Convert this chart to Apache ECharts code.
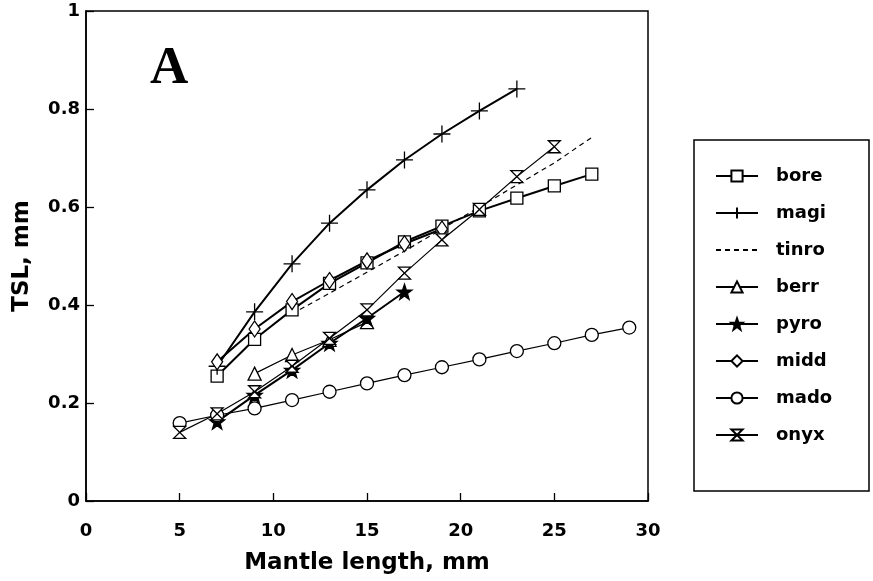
<!DOCTYPE html>
<html lang="en">
<head>
  <meta charset="UTF-8">
  <title>TSL vs mantle length</title>
  <script src="https://cdn.jsdelivr.net/npm/echarts@6/dist/echarts.min.js"></script>
  <style>
    html, body { margin: 0; padding: 0; background: #fff; }
    #chart { width: 873px; height: 581px; }
  </style>
</head>
<body>
  <div id="chart"></div>
  <script type="text/javascript">
    // mantle length, mm
    var boreX = [7, 9, 11, 13, 15, 17, 19, 21, 23, 25, 27];
    var boreY = [0.255, 0.33, 0.39, 0.444, 0.486, 0.529, 0.561, 0.592, 0.618, 0.643, 0.667];
    var magiX = [7, 9, 11, 13, 15, 17, 19, 21, 23];
    var magiY = [0.275, 0.386, 0.484, 0.567, 0.635, 0.696, 0.749, 0.796, 0.841];
    var tinroX = [11, 13, 15, 17, 19, 21, 23, 25, 27];
    var tinroY = [0.382, 0.424, 0.467, 0.51, 0.555, 0.6, 0.645, 0.69, 0.742];
    var berrX = [9, 11, 13, 15];
    var berrY = [0.26, 0.298, 0.329, 0.365];
    var pyroX = [7, 9, 11, 13, 15, 17];
    var pyroY = [0.162, 0.216, 0.267, 0.322, 0.373, 0.427];
    var middX = [7, 9, 11, 13, 15, 17, 19];
    var middY = [0.284, 0.351, 0.407, 0.45, 0.49, 0.525, 0.555];
    var madoX = [5, 7, 9, 11, 13, 15, 17, 19, 21, 23, 25, 27, 29];
    var madoY = [0.159, 0.175, 0.189, 0.206, 0.223, 0.24, 0.257, 0.273, 0.289, 0.306, 0.322, 0.339, 0.354];
    var onyxX = [5, 7, 9, 11, 13, 15, 17, 19, 21, 23, 25];
    var onyxY = [0.14, 0.178, 0.223, 0.275, 0.332, 0.39, 0.465, 0.533, 0.595, 0.662, 0.723];

    var xTicks = [0, 5, 10, 15, 20, 25, 30];
    var names = ['bore', 'magi', 'tinro', 'berr', 'pyro', 'midd', 'mado', 'onyx'];

    var crossPath = 'path://M0,-1L0,1M-1,0L1,0';
    var starPath = 'path://M0,-1L0.235,-0.324L0.951,-0.309L0.38,0.124L0.588,0.809L0,0.4L-0.588,0.809L-0.38,0.124L-0.951,-0.309L-0.235,-0.324Z';
    var hourglassPath = 'path://M-1,-1L1,-1L-1,1L1,1Z';

    function pairs(xs, ys) {
      var out = [];
      for (var i = 0; i < xs.length; i++) out.push([xs[i], ys[i]]);
      return out;
    }

    function mk(name, xs, ys, symbol, size, width, fill, dashed) {
      return {
        name: name,
        type: 'line',
        data: pairs(xs, ys),
        symbol: symbol,
        symbolSize: size,
        showSymbol: symbol !== 'none',
        lineStyle: { color: '#000', width: width, type: dashed ? [5, 4] : 'solid' },
        itemStyle: { color: fill, borderColor: '#000', borderWidth: 1.3 },
        emphasis: { disabled: true },
        animation: false
      };
    }

    var myChart = echarts.init(document.getElementById('chart'));
    var bold = { fontFamily: 'DejaVu Sans', fontWeight: 'bold', color: '#000' };

    // legend entries; tinro has no marker
    var legendData = names.map(function (n) {
      return n === 'tinro' ? { name: n, itemStyle: { opacity: 0 } } : { name: n };
    });

    var option = {
      backgroundColor: '#fff',
      grid: { left: 86, top: 11, width: 562, height: 490, show: true, borderColor: '#000', borderWidth: 1.5 },
      xAxis: {
        type: 'value', min: xTicks[0], max: xTicks[xTicks.length - 1], interval: 5,
        name: 'Mantle length, mm', nameLocation: 'middle', nameGap: 51,
        nameTextStyle: Object.assign({ fontSize: 23 }, bold),
        axisLine: { lineStyle: { color: '#000', width: 1.5 } },
        axisTick: { inside: true, length: 8, lineStyle: { color: '#000', width: 1.3 } },
        axisLabel: Object.assign({ fontSize: 18, margin: 21 }, bold),
        splitLine: { show: false }
      },
      yAxis: {
        type: 'value', min: 0, max: 1, interval: 0.2,
        name: 'TSL, mm', nameLocation: 'middle', nameGap: 52,
        nameTextStyle: Object.assign({ fontSize: 23 }, bold),
        axisLine: { lineStyle: { color: '#000', width: 1.5 } },
        axisTick: { inside: true, length: 8, lineStyle: { color: '#000', width: 1.3 } },
        axisLabel: Object.assign({ fontSize: 18, margin: 6 }, bold),
        splitLine: { show: false }
      },
      legend: {
        orient: 'vertical', left: 710, top: 162,
        itemWidth: 42, itemHeight: 14, itemGap: 19,
        textStyle: Object.assign({ fontSize: 18, padding: [0, 0, 0, 13] }, bold),
        selectedMode: false,
        data: legendData
      },
      graphic: [
        { type: 'rect', shape: { x: 694, y: 140, width: 175, height: 351 },
          style: { fill: 'none', stroke: '#000', lineWidth: 1.5 } },
        { type: 'text', left: 150, top: 43,
          style: { text: 'A', font: 'bold 53px "Liberation Serif"', fill: '#000' } }
      ],
      series: [
        mk('bore', boreX, boreY, 'rect', 12, 2, '#fff'),
        mk('magi', magiX, magiY, crossPath, 17, 2, 'none'),
        mk('tinro', tinroX, tinroY, 'none', 0, 1.2, '#000', true),
        mk('berr', berrX, berrY, 'triangle', 13, 1.2, '#fff'),
        mk('pyro', pyroX, pyroY, starPath, 15, 2, '#000'),
        mk('midd', middX, middY, 'diamond', [11, 16], 2, '#fff'),
        mk('mado', madoX, madoY, 'circle', 13, 1.2, '#fff'),
        mk('onyx', onyxX, onyxY, hourglassPath, 12, 1.2, '#fff')
      ]
    };
    option && myChart.setOption(option);
  </script>
</body>
</html>
